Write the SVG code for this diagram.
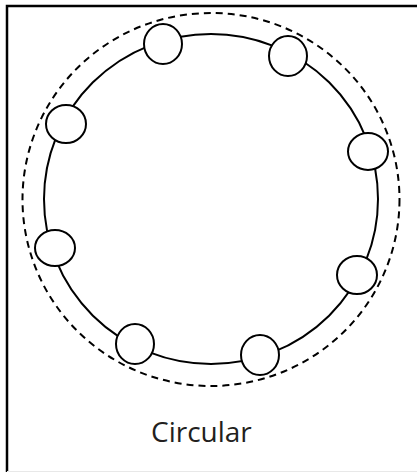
<svg xmlns="http://www.w3.org/2000/svg" width="417" height="472" viewBox="0 0 417 472">
  <style>
    .frame { fill: none; stroke: #000; stroke-width: 2.5; }
    .ring { fill: none; stroke: #000; stroke-width: 2; }
    .dash { fill: none; stroke: #000; stroke-width: 2; stroke-dasharray: 7 5; }
    .node ellipse { fill: #fff; stroke: #000; stroke-width: 2; }
    .label { font-family: "Open Sans", "Noto Sans", sans-serif; font-size: 28px; fill: #231f20; }
  </style>
  <rect x="0" y="0" width="417" height="472" fill="#fff"/>
  <path class="frame" d="M7,472 V6 H417"/>
  <line x1="7" y1="471.5" x2="417" y2="471.5" stroke="#e8e8e8" stroke-width="1"/>
  <g id="connectors">
    <ellipse class="dash" cx="211" cy="199.5" rx="188.5" ry="186.5"/>
    <ellipse class="ring" cx="211" cy="199" rx="167" ry="165"/>
  </g>
  <g id="node1" class="node"><ellipse cx="163" cy="44" rx="19" ry="20"/></g>
  <g id="node2" class="node"><ellipse cx="288" cy="56" rx="19" ry="20"/></g>
  <g id="node3" class="node"><ellipse cx="66" cy="124" rx="20" ry="19"/></g>
  <g id="node4" class="node"><ellipse cx="368" cy="151.5" rx="20" ry="18.5"/></g>
  <g id="node5" class="node"><ellipse cx="55" cy="248" rx="20" ry="18"/></g>
  <g id="node6" class="node"><ellipse cx="357" cy="275" rx="20" ry="19"/></g>
  <g id="node7" class="node"><ellipse cx="135" cy="344" rx="19" ry="20"/></g>
  <g id="node8" class="node"><ellipse cx="260" cy="355" rx="19" ry="20"/></g>
  <g id="label"><text class="label" x="151" y="442">Circular</text></g>
</svg>
